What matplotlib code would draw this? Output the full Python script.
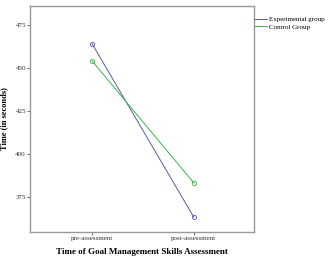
import matplotlib
matplotlib.use("Agg")
import matplotlib.pyplot as plt

categories = ["pre-assessment", "post-assessment"]
experimental = [464, 363]
control = [454, 383]
yticks = [375, 400, 425, 450, 475]

plt.rcParams['font.family'] = ['Liberation Serif', 'DejaVu Serif']

W, H = 332, 261
fig = plt.figure(figsize=(W/100, H/100), dpi=100)
ax = fig.add_axes([30/W, 1-232/H, (254-30)/W, (232-6)/H])

x = [0, 1]
l1, = ax.plot(x, experimental, color='#5a5aa8', lw=0.7, marker='o', ms=3,
              mfc='none', mec='#5a5aa8', mew=0.6, label='Experimental group')
l2, = ax.plot(x, control, color='#3cb44b', lw=0.7, marker='o', ms=3,
              mfc='none', mec='#3cb44b', mew=0.6, label='Control Group')

ax.set_xlim(-0.61, 1.59)
ax.set_ylim(354.5, 486)
ax.set_xticks(x)
ax.set_xticklabels(categories, fontsize=5)
ax.set_yticks(yticks)
ax.set_yticklabels([str(v) for v in yticks], fontsize=5)
ax.tick_params(length=2, width=0.5, colors='#333333', pad=1)
for s in ax.spines.values():
    s.set_color('#999999')
    s.set_linewidth(1.0)

ax.set_ylabel('Time (in seconds)', fontsize=6, fontweight='bold', labelpad=5)
ax.set_xlabel('Time of Goal Management Skills Assessment', fontsize=6.5,
              fontweight='bold', labelpad=5)

fig.legend(handles=[l1, l2], loc='upper left', bbox_to_anchor=(253/W, 1-15/H),
           frameon=False, fontsize=5, handlelength=1.8, handletextpad=0.3,
           labelspacing=0.2, borderaxespad=0, borderpad=0.2)
for h in fig.legends[0].legend_handles:
    h.set_marker('')

fig.savefig('out.png', dpi=100, facecolor='white')
